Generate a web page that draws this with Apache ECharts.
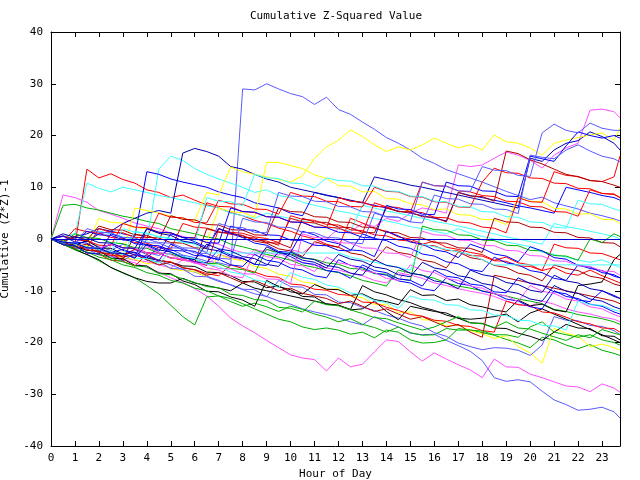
<!DOCTYPE html>
<html><head><meta charset="utf-8">
<script src="https://cdn.jsdelivr.net/npm/echarts@6/dist/echarts.min.js"></script>
<style>html,body{margin:0;padding:0;background:#fff}#c{width:640px;height:480px}</style>
</head><body><div id="c"></div>
<script>
const titleText = 'Cumulative Z-Squared Value';
const xName = 'Hour of Day';
const yName = 'Cumulative (Z*Z)-1';
const hours = [0,0.5,1,1.5,2,2.5,3,3.5,4,4.5,5,5.5,6,6.5,7,7.5,8,8.5,9,9.5,10,10.5,11,11.5,12,12.5,13,13.5,14,14.5,15,15.5,16,16.5,17,17.5,18,18.5,19,19.5,20,20.5,21,21.5,22,22.5,23,23.5,23.75];
const yTicks = [-40,-30,-20,-10,0,10,20,30,40];

const s01 = [0,-0.6,-1.1,-0.4,-1.5,-2.2,-1.0,-2.1,-2.6,-3.2,-2.0,-3.1, -3.6,-4.3,-4.6,-5.2,29.0,28.8,30.0,29.0,28.1,27.5,26.0,27.4, 25.0,24.1,22.6,21.2,19.6,18.5,17.2,15.6,14.6,13.4,12.6,11.8, 11.0,10.1,9.2,8.4,7.6,8.1,7.0,6.4,5.8,5.0,4.5,3.9, 3.5];
const s02 = [0,-0.5,-1.4,-2.1,-2.5,-3.2,-4.0,-4.6,-5.5,-6.4,-7.5,-8.4, -9.6,-11.0,-13.0,-15.3,-16.8,-18.1,-19.6,-21.0,-22.4,-23.0,-23.3,-25.5, -23.0,-24.7,-24.2,-21.8,-19.5,-19.8,-21.8,-23.6,-22.0,-23.2,-24.3,-25.3, -26.8,-23.2,-24.7,-24.8,-26.1,-26.8,-27.6,-28.4,-28.6,-29.5,-28.0,-28.8, -29.6];
const s03 = [0,-0.6,-1.0,-1.7,-2.1,-2.8,-3.1,-2.0,-3.0,-4.1,-5.0,-5.9, -6.4,-7.2,-8.0,-8.9,-9.8,-10.6,-11.1,-12.0,-12.6,-13.5,-14.1,-14.6, -15.2,-16.0,-16.6,-15.0,-16.1,-17.0,-18.2,-18.5,-18.4,-19.6,-20.6,-21.7, -23.5,-26.8,-27.5,-27.2,-27.6,-29.4,-31.1,-32.0,-33.1,-32.9,-32.5,-33.4, -34.6];
const s04 = [0,-0.6,-1.0,-1.6,-2.4,-3.0,-3.6,-4.1,-4.4,-5.0,-5.6,-4.0, -4.6,-5.1,-3.0,-3.6,-4.1,-2.0,-2.6,-3.1,-2.0,-2.7,-1.0,0.0, 2.0,1.4,3.0,2.4,4.0,3.4,5.0,6.0,5.6,5.0,14.3,14.0, 14.3,15.6,16.8,16.2,15.2,13.7,16.2,17.6,18.5,24.9,25.1,24.6, 23.4];
const s05 = [0,-1.0,-2.1,-3.0,-4.2,-5.5,-6.6,-7.5,-9.0,-10.6,-12.8,-15.0, -16.6,-11.2,-11.0,-12.1,-13.0,-12.4,-13.1,-14.0,-13.0,-13.6,-14.5,-15.1, -16.0,-15.4,-16.5,-17.1,-18.0,-17.0,-18.1,-18.6,-18.5,-17.3,-17.6,-17.6, -18.1,-18.6,-19.4,-20.1,-21.0,-19.0,-19.5,-20.5,-21.2,-20.4,-21.5,-22.1, -22.5];
const s06 = [0,-0.5,-1.1,13.5,11.8,12.6,11.5,10.8,9.5,9.0,8.0,8.5, 7.5,6.6,6.0,5.1,4.5,3.6,3.0,2.1,1.5,0.6,0.0,-1.0, -1.6,4.0,3.1,2.0,1.5,0.4,0.0,-1.0,-0.4,-1.6,-2.0,-2.6, -3.0,-4.1,-3.5,-4.6,-5.0,-6.1,-5.5,-6.6,-7.0,-6.0,-7.1,-8.0, -8.5];
const s07 = [0,8.5,8.0,7.1,5.5,4.8,4.0,3.1,2.5,2.0,1.1,0.5, 0.0,-0.6,-1.0,-2.0,-2.6,-3.1,-2.0,-2.6,-4.0,-4.5,-5.1,-5.6, -6.0,-6.6,-7.1,-8.0,-8.5,-6.5,-7.0,-7.6,-8.5,-9.0,-9.6,-10.1, -10.5,-11.1,-12.0,-12.6,-13.0,-12.0,-12.6,-13.5,-14.1,-14.5,-15.1,-15.5, -16.0];
const s08 = [0,6.5,6.7,6.0,5.6,5.0,4.4,4.0,3.4,3.0,2.0,1.5, 1.0,0.4,0.0,-1.0,-1.5,-2.1,-3.0,-3.5,-4.1,-5.0,-5.5,-6.1, -6.5,-7.1,-8.0,-8.5,-9.1,-6.0,-6.6,-7.0,-7.6,-8.5,-9.1,-9.5, -10.0,-10.6,-11.0,-11.6,-12.0,-12.5,-13.6,-14.0,-14.6,-15.0,-15.4,-16.0, -16.5];
const s09 = [0,-0.5,-1.0,-1.6,1.5,1.0,0.4,0.0,-0.6,13.5,16.0,15.2, 13.6,12.5,11.6,10.8,10.0,9.0,9.5,8.4,8.0,7.1,6.5,6.0, 5.4,5.0,4.4,4.0,3.5,3.0,2.4,2.0,1.5,1.0,2.0,1.1, 0.5,0.0,-0.6,-1.0,-1.5,-2.5,-3.0,-3.5,-4.1,-4.5,-4.0,-5.0, -5.5];
const s10 = [0,0.5,1.0,10.8,9.8,9.1,10.0,9.5,9.0,8.4,8.0,7.5, 7.0,6.4,6.0,5.0,4.5,4.0,5.0,4.4,4.0,3.5,3.0,2.4, 2.0,1.5,6.5,6.0,5.4,5.0,4.5,4.0,3.4,3.0,2.5,2.0, 1.5,1.0,0.4,0.0,-0.5,-1.0,3.0,2.4,2.0,1.5,1.0,0.5, 0.0];
const s11 = [0,0.5,0.0,-0.5,1.0,1.5,1.0,0.5,13.0,12.5,11.6,11.0, 10.5,10.0,9.1,8.5,8.0,7.0,6.5,6.0,5.0,4.5,9.0,8.5, 8.0,7.4,7.0,6.5,6.0,5.4,5.0,4.5,4.0,3.5,9.0,8.4, 8.0,7.5,7.0,6.4,6.0,5.5,5.0,10.0,9.5,9.0,8.4,8.0, 7.5];
const s12 = [0,-0.5,0.5,1.0,2.0,1.5,3.0,4.0,5.0,5.5,5.0,16.6, 17.5,16.9,16.0,14.0,13.5,12.5,11.6,11.0,10.0,9.5,9.0,8.4, 8.0,7.5,7.0,12.0,11.5,11.0,10.4,10.0,9.5,9.0,8.5,8.0, 7.5,7.0,6.5,6.0,15.6,15.0,17.2,18.5,19.0,20.7,19.8,18.5, 17.2];
const s13 = [0,-0.5,-1.0,-1.6,-2.0,-2.5,-3.0,6.0,5.5,5.0,4.4,4.0, 3.5,9.0,8.5,13.9,13.0,12.5,12.0,11.5,11.0,12.2,15.6,17.8, 19.1,21.1,19.8,18.2,16.9,17.8,17.2,18.2,19.5,18.5,17.6,18.2, 17.2,20.1,18.8,18.5,17.6,16.2,18.5,19.1,19.6,20.1,20.5,19.1, 21.4];
const s14 = [0,-0.4,-1.2,-1.4,4.0,3.2,3.1,2.2,2.0,1.1,1.2,0.3, 0.1,-0.6,6.0,5.3,5.1,4.2,14.8,14.8,14.2,13.6,12.4,11.7, 10.3,10.2,9.1,9.2,7.8,7.7,6.8,6.6,5.7,5.8,4.7,4.6, 3.8,3.7,2.8,8.0,7.3,7.2,5.9,5.8,4.8,4.9,3.8,3.7, 3.0];
const s15 = [0,-0.4,-1.2,-1.3,-2.6,-2.8,-3.7,-3.9,-4.8,-4.4,-5.8,-6.1, -6.3,-7.3,-3.0,-3.8,-4.2,-5.3,-5.7,-6.8,-7.2,-8.3,-8.6,-9.8, -9.6,-11.1,-11.3,-12.7,-12.6,-14.2,-14.1,-15.6,-15.7,-16.8,-16.6,-17.7, -18.3,-19.2,-18.7,-20.8,-22.0,-24.0,-17.3,-18.2,-18.8,-20.8,-20.3,-21.0, -21.5];
const s16 = [0,-0.8,-1.7,-1.9,-3.1,-3.3,-4.2,-2.8,-4.1,-4.4,-5.7,-5.8, -7.2,-7.3,-8.2,-8.8,-9.7,-9.8,-11.2,-8.0,-9.2,-9.3,-10.7,-10.8, -12.2,-12.3,-13.2,-13.8,-14.7,-15.3,-16.2,-16.8,-18.1,-18.8,-20.1,-20.8, -21.4,-21.0,-21.1,-21.5,-22.5,-20.5,-15.0,-15.7,-15.8,-16.7,-16.9,-17.7, -18.5];
const s17 = [0,-1.0,-2.0,-3.0,-4.0,-5.5,-6.5,-7.5,-8.2,-8.5,-8.5,-7.6, -8.5,-9.0,-9.5,-10.0,-8.5,-9.5,-10.0,-10.5,-11.0,-11.5,-12.0,-12.5, -12.8,-13.7,-13.5,-12.0,-14.0,-15.6,-13.0,-13.5,-14.0,-14.3,-15.3,-15.5, -15.3,-15.0,-14.5,-16.0,-14.3,-13.5,-14.5,-15.5,-16.5,-17.5,-18.5,-19.5, -20.0];
const s18 = [0,-0.4,-1.2,-0.3,-1.7,-1.8,-2.9,-2.6,-3.7,-4.1,-4.5,-5.2, -5.3,-6.4,-6.5,-7.1,-8.2,-8.3,-9.4,-9.1,-10.2,-10.6,-8.8,-9.7, -9.8,-10.9,-10.6,-11.7,-12.1,-12.7,-9.8,-10.9,-10.8,-11.9,-11.6,-12.7, -13.1,-13.7,-14.1,-11.8,-12.9,-12.6,-13.7,-14.1,-9.0,-8.7,-8.3,-4.0, -3.0];
const s19 = [0,-0.6,-1.4,-2.2,-2.3,-3.7,-3.8,-5.1,-5.2,-6.6,-6.7,-8.1, -8.8,-10.1,-10.2,-11.2,-11.8,-13.0,-8.0,-9.2,-9.8,-11.1,-11.2,-12.6, -12.8,-13.6,-9.0,-10.2,-10.8,-11.7,-12.3,-13.2,-13.8,-14.7,-15.3,-16.2, -16.3,-17.2,-17.3,-18.2,-18.8,-19.6,-18.0,-16.5,-17.2,-17.3,-18.7,-18.8, -19.5];
const s20 = [0,-0.6,-0.8,-1.7,2.0,1.3,1.2,0.3,0.2,5.0,4.2,4.1, 3.2,3.1,7.5,6.8,6.7,5.8,5.7,4.8,9.0,8.3,8.2,7.3, 7.2,6.3,6.2,10.0,9.2,9.1,8.2,8.1,7.2,7.1,6.2,6.1, 11.0,13.7,12.8,12.7,11.8,11.7,10.8,10.7,9.8,9.7,8.8,8.7, 8.0];
const s21 = [0,-0.6,-0.9,-2.1,-2.4,-3.2,-3.3,-2.0,-2.7,-2.8,-3.6,-4.1, -4.3,-5.1,2.0,1.3,1.1,0.4,0.1,-0.7,4.0,3.3,3.1,2.3, 2.1,1.2,1.1,7.0,6.2,6.1,5.3,5.1,4.2,4.1,3.3,3.1, 2.3,2.1,1.2,8.0,7.2,7.1,13.0,12.3,12.1,11.3,11.1,12.0, 16.0];
const s22 = [0,-1.1,-1.3,-2.7,-2.9,-4.1,-4.3,-5.2,-3.0,-4.2,-4.4,-5.6, -5.9,-6.7,-7.1,-5.0,-5.7,-6.4,-7.2,-7.4,-8.7,-8.9,-9.7,-9.9, -10.7,-10.9,-12.2,-12.3,-13.2,-13.8,-14.6,-14.9,-15.7,-15.9,-16.7,-16.9, -17.7,-18.0,-12.0,-12.7,-12.9,-14.1,-14.3,-15.1,-16.0,-16.4,-17.2,-17.3, -18.0];
const s23 = [0,-0.6,2.0,1.4,1.1,0.3,0.1,-0.7,-0.8,-1.7,-1.9,3.0, 2.3,2.1,1.4,0.9,0.6,-0.1,-0.4,-1.2,4.5,3.8,3.6,2.8, 2.7,1.8,1.6,0.8,0.6,-0.2,-0.4,-1.2,-1.3,-2.2,-2.3,-3.2, -3.3,-4.2,-4.3,-5.2,-5.3,-6.1,-1.0,-1.7,-1.8,-2.7,-2.8,-3.6, -4.0];
const s24 = [0,0.6,-0.1,-0.3,-1.2,-1.3,3.0,2.3,2.2,1.3,1.2,0.3, 0.2,7.0,6.3,6.2,5.3,5.1,4.3,4.2,3.3,3.2,2.3,2.2, 8.0,7.3,7.1,6.3,6.2,5.3,5.2,11.0,10.3,10.2,9.3,9.1, 8.4,8.2,7.3,7.2,6.3,6.2,5.3,5.2,4.4,9.5,8.8,8.6, 8.0];
const s25 = [0,-0.5,-1.5,-1.0,-2.0,-2.5,-3.5,-3.0,-4.0,-5.0,-4.5,-5.5, -6.0,-7.0,-6.5,-7.5,-8.5,-8.0,-9.0,-10.0,-9.5,-10.5,-11.0,-11.5, -12.5,-12.0,-13.0,-14.0,-13.5,-14.5,-15.5,-15.0,-16.0,-17.0,-16.5,-18.0, -19.0,-7.0,-7.5,-8.0,-8.5,-9.0,-9.5,-10.0,-10.5,-11.0,-11.5,-12.0, -12.5];
const s26 = [0,-0.6,-0.8,-1.7,-1.8,-1.0,-1.7,-1.8,-2.7,-2.8,-3.7,-3.8, -4.6,2.0,1.3,1.2,0.3,0.2,-0.7,-0.8,-1.7,4.0,3.3,3.2, 2.3,2.2,1.3,1.2,6.0,5.3,5.2,4.3,4.2,3.3,9.0,8.3, 8.2,7.3,17.0,16.5,15.3,14.5,13.5,12.5,12.0,11.3,11.1,10.4, 10.0];
const s27 = [0,-1.1,-1.8,-1.5,-2.7,-2.8,-4.1,1.0,0.3,0.2,-0.7,-0.8, -1.7,-1.8,2.0,1.1,0.7,-0.4,-0.8,-1.9,-2.3,-3.4,-0.5,-1.2, -1.6,-2.7,-3.1,-4.2,-1.5,-2.6,-3.0,-4.1,-4.5,-5.6,-2.5,-3.6, -4.0,-5.1,-5.5,-6.6,-7.0,-8.1,-5.0,-5.7,-6.1,-7.2,-7.6,-8.7, -9.0];
const s28 = [0,-0.6,0.5,-0.2,2.5,1.8,1.7,0.8,0.7,-0.2,4.5,3.8, 3.7,2.8,2.7,1.8,1.7,0.8,0.7,6.0,5.3,5.2,4.3,4.2, 3.3,3.2,2.3,2.2,1.3,1.2,0.3,0.2,-0.7,-0.8,-1.7,-1.8, -2.6,4.0,3.3,3.2,2.3,2.2,1.3,1.2,0.3,0.2,-0.7,-0.8, -1.5];
const s29 = [0,-1.1,-1.4,-2.6,-2.9,-3.7,-4.4,-5.2,-5.4,-6.7,-6.9,-7.7, -8.4,-9.2,-9.4,-10.7,-10.9,-11.7,-11.9,-13.2,-13.4,-14.1,-12.0,-12.7, -12.9,-13.7,-14.4,-15.2,-15.4,-16.2,-16.9,-17.6,-17.0,-16.0,-15.0,-16.2, -16.4,-17.1,-16.0,-17.2,-17.4,-18.2,-18.9,-19.6,-18.5,-19.1,-17.5,-18.2, -18.5];
const s30 = [0,-0.6,1.0,0.3,0.1,-0.7,-0.9,-1.7,-1.8,-2.7,-2.9,-3.6, -3.9,-4.7,-4.8,-5.7,-5.9,-6.6,-2.0,-2.7,-2.8,-3.7,-3.9,-4.6, -4.9,-5.7,-5.8,-6.7,-6.8,-7.7,-8.0,2.5,1.8,1.7,0.8,0.7, -0.2,-0.3,-1.2,-1.3,-2.2,-2.3,-3.2,-3.3,-4.1,0.0,-0.7,1.0, 0.5];
const s31 = [0,-1.0,-2.0,-2.5,-3.5,-4.0,-5.0,-5.5,-6.5,-7.0,-8.0,-8.5, -9.5,-10.0,-11.0,-11.5,-12.5,-13.5,-14.5,-15.5,-16.0,-17.0,-17.5,-17.2, -17.6,-18.4,-18.0,-19.1,-17.6,-18.0,-19.5,-20.1,-20.0,-19.5,-17.3,-17.6, -17.8,-18.5,-18.5,-19.0,-17.0,-16.0,-18.0,-18.5,-19.0,-18.5,-19.5,-20.0, -20.5];
const s32 = [0,-0.6,-0.8,-1.7,-1.8,-2.7,-2.8,-3.6,2.0,1.3,1.2,0.3, 0.2,-0.7,-0.8,6.0,5.3,5.2,4.3,4.2,3.3,3.2,2.3,2.2, 1.3,1.2,0.3,0.2,6.5,5.8,5.7,4.8,4.7,11.0,10.3,10.2, 9.3,9.2,8.3,8.2,16.0,15.5,15.0,18.0,20.7,20.0,19.5,20.0, 19.5];
const s33 = [0,-1.1,-1.3,-2.7,-2.9,1.0,0.2,-0.9,-1.2,-2.4,1.0,0.3, -0.5,-1.6,2.0,1.1,0.3,-0.8,-1.2,-2.4,-2.6,1.5,0.8,-0.4, -0.9,-2.1,-2.3,-3.4,1.5,0.6,-0.6,-1.0,-2.1,-2.5,-3.6,-1.0, -1.8,-2.9,-3.3,-4.4,-1.5,-2.3,-3.6,-3.9,-5.1,-5.4,-6.5,-6.9, -7.5];
const s34 = [0,0.6,-0.6,-0.8,-2.1,-1.0,-2.2,-2.6,-3.7,-1.5,-2.6,-3.3, -4.4,-4.6,-2.0,-3.1,-3.7,-4.9,-5.1,-2.5,-3.4,-4.6,-4.9,-6.1, -6.4,-7.6,-5.0,-6.1,-6.5,-7.7,-8.0,-9.1,-6.0,-7.2,-7.5,-8.7, -9.0,-10.2,-10.4,-7.5,-8.6,-9.0,-10.2,-10.6,-11.8,-12.1,-10.0,-10.9, -11.5];
const s35 = [0,-0.6,-0.8,-1.7,-1.8,-2.6,-2.0,-3.2,-3.3,-4.2,-1.0,-2.1, -2.4,-3.5,-3.9,-5.0,-5.3,-3.0,-4.1,-4.5,-5.6,-6.0,-7.1,-7.5, -4.0,-5.1,-5.5,-6.6,-7.0,-8.1,-8.5,-9.6,-10.0,-7.5,-8.6,-9.0, -10.1,-10.5,-11.6,-12.0,-13.1,-13.5,-10.0,-11.1,-11.5,-12.6,-13.0,-14.1, -14.5];
const s36 = [0,-0.6,-0.9,1.5,0.8,0.7,-0.2,-0.3,-1.2,-1.3,-2.2,-2.3, -3.2,-3.3,-4.1,2.5,1.8,1.7,0.8,0.7,-0.2,-0.3,-1.2,-1.3, -2.2,-2.3,1.0,0.1,-0.3,-1.4,-1.8,-2.9,-3.3,-4.4,-4.8,-5.9, -6.3,-3.5,-4.6,-5.0,-6.1,-6.5,-7.6,-8.0,-5.0,-5.7,-6.1,-7.2, -7.5];
const s37 = [0,-0.6,-0.8,-1.7,-1.8,-2.7,-2.8,-3.7,-1.5,-2.6,-3.0,-4.1, -4.5,-5.6,-6.0,-7.1,-7.5,-2.5,-3.4,-3.8,-4.9,-5.2,-6.3,-3.5, -4.6,-5.0,-6.1,-6.5,-7.6,-8.0,-5.0,-6.1,-6.5,-7.6,-8.0,-9.1, -9.5,-10.6,-11.0,-12.1,-9.0,-10.1,-10.5,-11.6,-12.0,-13.1,-13.5,-14.6, -15.0];
const s38 = [0,-0.6,-0.8,-1.7,-1.8,-1.0,-1.7,-1.8,-2.7,-2.8,-3.7,-3.8, -4.7,-4.8,-5.7,-5.8,-6.7,-6.8,-7.7,-7.8,-8.6,1.0,0.3,0.2, -0.7,-0.8,-1.7,-1.8,-2.7,-2.8,-3.6,1.5,0.8,0.7,-0.2,-0.3, -1.2,-1.3,-2.2,-2.3,-3.2,-3.3,-4.2,-4.3,-5.2,-5.3,-6.2,-6.3, -7.0];
const s39 = [0,-0.5,-1.0,-1.5,-2.0,-2.5,-3.0,1.5,1.0,0.5,0.0,-0.5, -1.0,-2.7,-2.7,-2.7,-2.7,-2.7,-2.7,-2.7,-2.7,-2.7,-2.7,-2.7, -2.7,-3.5,-4.0,-4.5,-5.0,-5.5,-6.0,-1.0,-1.5,-2.0,-2.5,-3.0, -4.0,-5.0,-5.0,-5.0,-5.0,-5.0,-5.0,-5.0,-5.0,-5.0,-5.0,-5.0, -5.0];
const s40 = [0,-0.6,-0.8,-1.7,-1.8,-2.6,2.0,1.3,1.2,0.3,0.2,-0.7, -0.9,8.0,7.3,7.2,6.4,12.5,11.8,11.7,10.8,10.7,9.9,11.8, 11.3,11.2,10.3,10.2,9.3,9.2,8.3,8.2,7.3,7.2,6.3,6.2, 5.3,5.2,4.3,4.2,3.3,3.2,2.3,2.1,7.5,6.8,6.7,5.8, 5.5];
const s41 = [0,-0.6,-0.8,-1.7,-1.8,-2.7,-2.8,-3.7,-3.8,-4.7,-2.5,-3.4, -3.8,-4.9,-5.3,-6.4,-6.8,-7.9,-8.3,-9.4,-6.5,-7.4,-7.8,-8.9, -9.3,-10.4,-10.8,-11.9,-12.3,-13.4,-11.0,-11.7,-11.8,-12.7,-12.8,-13.7, -13.8,-14.7,-14.8,-15.7,-15.8,-16.7,-16.8,-17.6,-12.0,-12.7,-12.8,-13.7, -14.0];
const s42 = [0,-0.6,-0.8,-1.7,-1.8,-2.7,-2.8,-3.6,0.0,-0.7,-0.8,-1.7, -1.8,-2.6,3.0,2.3,2.2,1.3,1.2,9.0,8.3,8.2,7.3,7.2, 6.3,6.2,5.3,5.2,4.3,4.2,3.3,3.1,8.5,7.8,7.7,6.8, 6.7,5.8,5.7,4.9,16.2,15.8,15.5,17.2,18.2,17.0,16.0,15.5, 14.9];
const s43 = [0,-0.6,-0.9,2.0,1.3,1.2,0.3,0.2,-0.7,-0.8,-1.7,-1.8, -2.7,-2.8,-3.7,-3.9,4.0,3.3,3.2,2.3,2.2,1.3,1.2,0.3, 0.2,-0.7,-0.9,5.0,4.3,4.2,3.3,11.0,10.3,10.2,9.3,9.2, 14.0,13.3,13.2,12.3,12.1,20.5,22.2,21.0,20.5,22.4,21.4,21.0, 21.0];
const s44 = [0,-0.6,-0.8,-1.7,-1.8,-2.7,-2.8,-3.7,-1.0,-2.1,-2.5,-3.6, -4.0,-1.0,-1.9,-2.3,-3.4,-3.8,-4.9,-5.3,-2.5,-3.6,-4.0,-5.1, -5.5,-6.6,-7.0,-4.0,-5.1,-5.5,-6.6,-7.0,-8.1,-8.5,-9.6,-6.0, -6.9,-7.3,-8.4,-8.8,-9.9,-10.3,-7.0,-8.1,-8.5,-9.6,-10.0,-11.1, -11.5];
const s45 = [0,1.0,0.3,0.2,-0.7,-0.8,-1.7,-1.8,2.0,1.1,0.7,-0.4, -0.8,-1.9,-2.3,-3.4,-3.8,-4.9,-1.5,-2.6,-3.0,-4.1,-4.5,-5.6, -3.0,-3.9,-4.3,-5.4,-5.8,-6.9,-7.3,-4.5,-5.6,-6.0,-7.1,-7.5, -8.6,-9.0,-10.1,-10.5,-11.6,-12.0,-9.0,-10.1,-10.5,-11.6,-12.0,-13.1, -13.5];

const C = {R:'#ff0000', G:'#00b000', B:'#0000ff', M:'#ff50ff', Cy:'#40ffff', DR:'#b00000', Y:'#ffff00', K:'#000000', LB:'#5a5aff', DB:'#0000b0'};
const seriesDefs = [
  [s01,'LB'],[s02,'M'],[s03,'LB'],[s04,'M'],[s05,'G'],[s06,'R'],[s07,'M'],[s08,'G'],[s09,'Cy'],[s10,'Cy'],
  [s11,'B'],[s12,'DB'],[s13,'Y'],[s14,'Y'],[s15,'Y'],[s16,'LB'],[s17,'K'],[s18,'K'],[s19,'K'],[s20,'R'],
  [s21,'R'],[s22,'R'],[s23,'R'],[s24,'R'],[s25,'DR'],[s26,'DR'],[s27,'DR'],[s28,'DR'],[s29,'G'],[s30,'G'],
  [s31,'G'],[s32,'B'],[s33,'B'],[s34,'B'],[s35,'B'],[s36,'B'],[s37,'M'],[s38,'M'],[s39,'Cy'],[s40,'Cy'],
  [s41,'Cy'],[s42,'LB'],[s43,'LB'],[s44,'DB'],[s45,'DB']
];

const FONT = 'DejaVu Sans Mono';
const series = seriesDefs.map((d, k) => ({
  type: 'line', name: 's' + (k + 1), xAxisIndex: 0, yAxisIndex: 0,
  data: d[0].map((v, i) => [hours[i], v]),
  showSymbol: false, symbol: 'none', silent: true,
  lineStyle: { color: C[d[1]], width: 1 }, itemStyle: { color: C[d[1]] }
}));
series.push({
  type: 'line', data: [], silent: true, xAxisIndex: 0, yAxisIndex: 0,
  markLine: { silent: true, symbol: 'none', label: { show: false },
    lineStyle: { color: '#0000d0', width: 1, type: 'solid' }, data: [{ yAxis: 0 }] },
  z: 5
});

const tickStyle = { show: true, inside: true, length: 5, lineStyle: { color: '#000', width: 1 } };
const lineStyleAxis = { show: true, onZero: false, lineStyle: { color: '#000', width: 1 } };
const xfmt = v => (Number.isInteger(v) ? String(v) : '');

const chart = echarts.init(document.getElementById('c'), null, { renderer: 'canvas' });
chart.setOption({
  animation: false,
  backgroundColor: '#ffffff',
  grid: { left: 51, right: 20, top: 32, bottom: 34, containLabel: false, outerBoundsMode: 'none' },
  graphic: [{ type: 'text', x: 336, y: 16, silent: true,
    style: { text: titleText, align: 'center', verticalAlign: 'middle',
      font: '11px "DejaVu Sans Mono"', fill: '#000' } }],
  xAxis: [
    { type: 'value', min: 0, max: 23.75, interval: 1, position: 'bottom',
      name: xName, nameLocation: 'middle', nameGap: 21,
      nameTextStyle: { fontFamily: FONT, fontSize: 11, color: '#000' },
      axisLine: lineStyleAxis, axisTick: tickStyle,
      axisLabel: { show: true, formatter: xfmt, fontFamily: FONT, fontSize: 11, color: '#000', margin: 7, hideOverlap: false },
      splitLine: { show: false } },
    { type: 'value', min: 0, max: 23.75, interval: 1, position: 'top',
      axisLine: lineStyleAxis, axisTick: tickStyle, axisLabel: { show: false }, splitLine: { show: false } }
  ],
  yAxis: [
    { type: 'value', min: yTicks[0], max: yTicks[yTicks.length - 1], interval: 10, position: 'left',
      name: yName, nameLocation: 'middle', nameGap: 40, nameRotate: 90,
      nameTextStyle: { fontFamily: FONT, fontSize: 11, color: '#000' },
      axisLine: lineStyleAxis, axisTick: tickStyle,
      axisLabel: { show: true, fontFamily: FONT, fontSize: 11, color: '#000', margin: 8 },
      splitLine: { show: false } },
    { type: 'value', min: yTicks[0], max: yTicks[yTicks.length - 1], interval: 10, position: 'right',
      axisLine: lineStyleAxis, axisTick: tickStyle, axisLabel: { show: false }, splitLine: { show: false } }
  ],
  series: series
});
</script>
</body></html>
